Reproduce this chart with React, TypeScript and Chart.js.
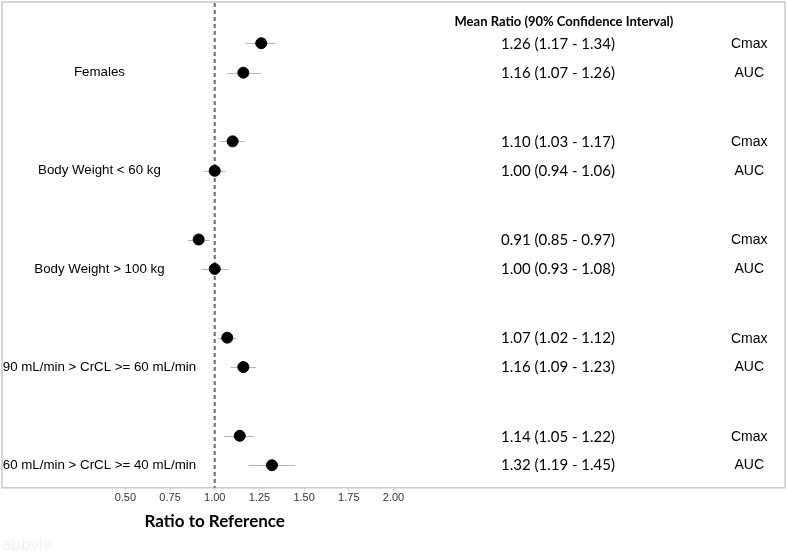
import React, { useEffect, useRef } from "react";
import { Chart, registerables } from "chart.js";
Chart.register(...registerables);

const groups = [
  "Females",
  "Body Weight < 60 kg",
  "Body Weight > 100 kg",
  "90 mL/min > CrCL >= 60 mL/min",
  "60 mL/min > CrCL >= 40 mL/min",
];
const cmaxMean = [1.26, 1.1, 0.91, 1.07, 1.14];
const cmaxLow = [1.17, 1.03, 0.85, 1.02, 1.05];
const cmaxHigh = [1.34, 1.17, 0.97, 1.12, 1.22];
const aucMean = [1.16, 1.0, 1.0, 1.16, 1.32];
const aucLow = [1.07, 0.94, 0.93, 1.09, 1.19];
const aucHigh = [1.26, 1.06, 1.08, 1.23, 1.45];
const xTicks = [0.5, 0.75, 1.0, 1.25, 1.5, 1.75, 2.0];
const paramLabels = ["Cmax", "AUC"];
const headerText = "Mean Ratio (90% Confidence Interval)";
const axisTitle = "Ratio to Reference";
const referenceValue = 1.0;

const AUC_OFFSET = 0.3;
const LABEL_X = 0.355;
const CI_TEXT_X = 2.92;
const PARAM_X = 3.99;

const fmt = (m: number, l: number, h: number) =>
  `${m.toFixed(2)} (${l.toFixed(2)} - ${h.toFixed(2)})`;

export default function App() {
  const ref = useRef<HTMLCanvasElement>(null);
  useEffect(() => {
    document.body.style.margin = "0";
    const canvas = ref.current!;
    const overlay = {
      id: "overlay",
      beforeDatasetsDraw(chart: any) {
        const { ctx, chartArea: a, scales } = chart;
        const xs = scales.x;
        const ys = scales.y;
        ctx.save();
        // border box
        ctx.strokeStyle = "#c9c9c9";
        ctx.lineWidth = 1.5;
        ctx.strokeRect(a.left, a.top, a.right - a.left, a.bottom - a.top);
        // reference dashed line
        const rx = xs.getPixelForValue(referenceValue);
        ctx.strokeStyle = "#6b6b6b";
        ctx.lineWidth = 2;
        ctx.setLineDash([4, 3]);
        ctx.beginPath();
        ctx.moveTo(rx, a.top + 1);
        ctx.lineTo(rx, a.bottom);
        ctx.stroke();
        ctx.setLineDash([]);
        // error bars
        ctx.strokeStyle = "#b5b5b5";
        ctx.lineWidth = 1;
        groups.forEach((_, i) => {
          const pairs: [number, number, number][] = [
            [cmaxLow[i], cmaxHigh[i], i],
            [aucLow[i], aucHigh[i], i + AUC_OFFSET],
          ];
          pairs.forEach(([lo, hi, yv]) => {
            const y = Math.round(ys.getPixelForValue(yv)) + 0.5;
            ctx.beginPath();
            ctx.moveTo(xs.getPixelForValue(lo), y);
            ctx.lineTo(xs.getPixelForValue(hi), y);
            ctx.stroke();
          });
        });
        ctx.restore();
      },
      afterDraw(chart: any) {
        const { ctx, chartArea: a, scales } = chart;
        const xs = scales.x;
        const ys = scales.y;
        ctx.save();
        ctx.textAlign = "center";
        ctx.textBaseline = "middle";
        ctx.fillStyle = "#000";
        // header
        ctx.font = "bold 13px Lato";
        ctx.fillText(headerText, xs.getPixelForValue(CI_TEXT_X) + 6, ys.getPixelForValue(-0.214));
        groups.forEach((g, i) => {
          const yC = ys.getPixelForValue(i);
          const yA = ys.getPixelForValue(i + AUC_OFFSET);
          ctx.font = "13.3px 'Liberation Sans'";
          ctx.fillText(g, xs.getPixelForValue(LABEL_X), yA);
          ctx.font = "14px 'Liberation Sans'";
          ctx.fillText(paramLabels[0], xs.getPixelForValue(PARAM_X), yC + 1);
          ctx.fillText(paramLabels[1], xs.getPixelForValue(PARAM_X), yA);
          ctx.font = "15px Lato";
          ctx.fillText(fmt(cmaxMean[i], cmaxLow[i], cmaxHigh[i]), xs.getPixelForValue(CI_TEXT_X), yC + 1);
          ctx.fillText(fmt(aucMean[i], aucLow[i], aucHigh[i]), xs.getPixelForValue(CI_TEXT_X), yA);
        });
        // axis title
        ctx.font = "bold 17px Lato";
        ctx.fillText(axisTitle, xs.getPixelForValue(referenceValue), a.bottom + 34);
        // watermark
        ctx.textAlign = "left";
        ctx.fillStyle = "#f1f1f1";
        ctx.font = "17px 'Liberation Sans'";
        ctx.fillText("abbvie", 2, a.bottom + 58);
        ctx.restore();
      },
    };
    const chart = new Chart(canvas, {
      type: "scatter",
      data: {
        datasets: [
          {
            label: paramLabels[0],
            data: cmaxMean.map((v, i) => ({ x: v, y: i })),
            backgroundColor: "#000",
            borderColor: "#000",
            pointRadius: 5.5,
          },
          {
            label: paramLabels[1],
            data: aucMean.map((v, i) => ({ x: v, y: i + AUC_OFFSET })),
            backgroundColor: "#000",
            borderColor: "#000",
            pointRadius: 5.5,
          },
        ],
      },
      options: {
        animation: false,
        responsive: false,
        layout: { autoPadding: false, padding: { left: 2, right: 2, top: 2, bottom: 50 } },
        plugins: { legend: { display: false }, tooltip: { enabled: false } },
        scales: {
          x: {
            type: "linear",
            min: -0.19,
            max: 4.19,
            afterBuildTicks: (s: any) => {
              s.ticks = xTicks.map((v) => ({ value: v }));
            },
            ticks: {
              callback: (v: any) => Number(v).toFixed(2),
              font: { family: "'Liberation Sans'", size: 11 },
              color: "#333",
              padding: 1,
              autoSkip: false,
              maxRotation: 0,
            },
            grid: { drawOnChartArea: false, tickLength: 3, color: "#cfcfcf" },
            border: { display: false },
          },
          y: { type: "linear", display: false, min: -0.42, max: 4.53, reverse: true },
        },
      } as any,
      plugins: [overlay],
    });
    return () => chart.destroy();
  }, []);
  return <canvas ref={ref} width={787} height={556} style={{ display: "block" }} />;
}
